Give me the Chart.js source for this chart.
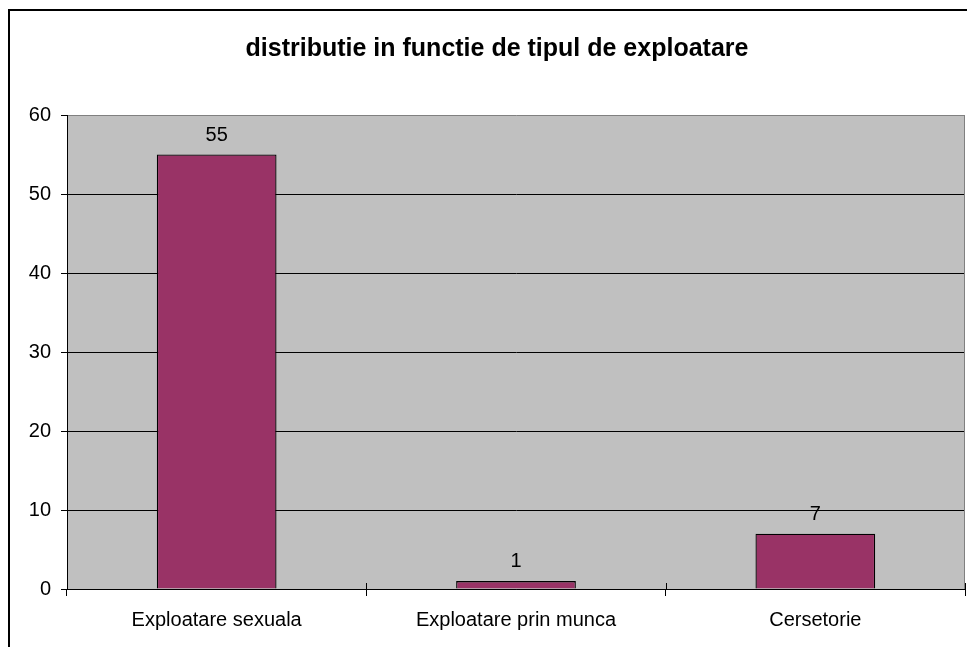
<!DOCTYPE html>
<html>
<head>
<meta charset="utf-8">
<script src="https://cdn.jsdelivr.net/npm/chart.js@4/dist/chart.umd.min.js"></script>
<style>
  html, body { margin: 0; padding: 0; background: #fff; overflow: hidden; }
  canvas { display: block; }
</style>
</head>
<body>
<canvas id="exploitChart" width="994" height="660"></canvas>
<script>
const chartTitle = 'distributie in functie de tipul de exploatare';
const categories = ['Exploatare sexuala', 'Exploatare prin munca', 'Cersetorie'];
const counts = [55, 1, 7];
const yTickValues = [0, 10, 20, 30, 40, 50, 60];

const FONT = "Arial, 'Liberation Sans', sans-serif";

// frame, title, grey plot area, cross ticks on the x axis and value labels
const excelLook = {
  id: 'excelLook',
  beforeDraw(chart) {
    const { ctx, chartArea: a } = chart;
    ctx.save();
    ctx.fillStyle = '#fff';
    ctx.fillRect(0, 0, chart.width, chart.height);
    ctx.strokeStyle = '#000';
    ctx.lineWidth = 2;
    ctx.strokeRect(9, 10, chart.width - 18, chart.height - 18);
    ctx.fillStyle = '#c0c0c0';
    ctx.fillRect(a.left, a.top, a.right - a.left, a.bottom - a.top);

    // title is centred on the whole chart frame, not on the plot area
    ctx.fillStyle = '#000';
    ctx.font = 'bold 25px ' + FONT;
    ctx.textAlign = 'center';
    ctx.textBaseline = 'alphabetic';
    ctx.fillText(chartTitle, chart.width / 2, 56);
    ctx.restore();
  },
  afterDraw(chart) {
    const { ctx, chartArea: a } = chart;
    const x = chart.scales.x;
    ctx.save();
    ctx.strokeStyle = '#808080';
    ctx.lineWidth = 1;
    ctx.beginPath();
    ctx.moveTo(Math.round(a.right) - 0.5, a.top);
    ctx.lineTo(Math.round(a.right) - 0.5, a.bottom);
    ctx.stroke();

    // upper half of the cross tick marks
    ctx.strokeStyle = '#000';
    const bounds = [a.left];
    for (let i = 1; i < categories.length; i++) {
      bounds.push((x.getPixelForValue(i - 1) + x.getPixelForValue(i)) / 2);
    }
    bounds.push(a.right);
    bounds.forEach((bx) => {
      const px = Math.round(bx) + 0.5;
      ctx.beginPath();
      ctx.moveTo(px, a.bottom - 6);
      ctx.lineTo(px, a.bottom);
      ctx.stroke();
    });

    ctx.fillStyle = '#000';
    ctx.font = '20px ' + FONT;
    ctx.textAlign = 'center';
    ctx.textBaseline = 'alphabetic';
    chart.getDatasetMeta(0).data.forEach((bar, i) => {
      ctx.fillText(String(counts[i]), bar.x, bar.y - 14);
    });
    ctx.restore();
  },
};

const canvas = document.getElementById('exploitChart');
new Chart(canvas.getContext('2d'), {
  type: 'bar',
  data: {
    labels: categories,
    datasets: [
      {
        data: counts,
        backgroundColor: '#993366',
        borderColor: '#000',
        borderWidth: 1.3,
        borderSkipped: 'bottom',
        barPercentage: 0.4,
        categoryPercentage: 1,
      },
    ],
  },
  options: {
    responsive: false,
    animation: false,
    devicePixelRatio: 1,
    layout: { padding: { left: 0, right: 29, top: 115, bottom: 0 } },
    plugins: {
      legend: { display: false },
      tooltip: { enabled: false },
      title: { display: false },
    },
    scales: {
      x: {
        afterFit: (scale) => { scale.height = 71; },
        grid: {
          offset: true,
          drawOnChartArea: false,
          color: '#000',
          tickColor: '#000',
          tickLength: 7,
        },
        border: { display: true, color: '#000', width: 1 },
        ticks: {
          color: '#000',
          padding: 12,
          maxRotation: 0,
          font: { family: FONT, size: 20 },
        },
      },
      y: {
        min: 0,
        max: 60,
        afterFit: (scale) => { scale.width = 67; },
        afterBuildTicks: (scale) => {
          scale.ticks = yTickValues.map((v) => ({ value: v }));
        },
        grid: {
          color: (c) => (c.tick && c.tick.value === 60 ? '#808080' : '#000'),
          tickColor: '#000',
          tickLength: 6,
          lineWidth: 1,
        },
        border: { display: true, color: '#000', width: 1 },
        ticks: {
          color: '#000',
          padding: 10,
          font: { family: FONT, size: 20 },
        },
      },
    },
  },
  plugins: [excelLook],
});
</script>
</body>
</html>
